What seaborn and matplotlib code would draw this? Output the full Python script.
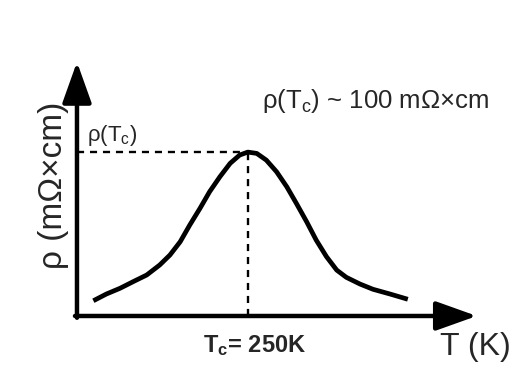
import seaborn as sns
import matplotlib.pyplot as plt
import pandas as pd

# schematic resistivity curve
T_vals = [24, 43, 63, 82, 102, 121, 136, 151, 165, 180, 194, 209, 224, 238, 250,
          263, 277, 292, 307, 321, 336, 350, 365, 380, 394, 414, 433, 458, 484]
rho_vals = [9.3, 13.4, 16.9, 20.9, 25, 31.1, 37.2, 45.3, 55.5, 65.7, 75.8, 84.9, 93.1, 98.2, 100,
            99.2, 95.1, 88, 78.8, 68.7, 57.5, 46.3, 36.2, 28, 23.6, 19.5, 16.3, 13.4, 10.2]
Tc = 250
rho_Tc = 100

sns.set_style('white')
plt.rcParams['font.family'] = ['Liberation Sans', 'DejaVu Sans']
plt.rcParams['mathtext.fontset'] = 'custom'
plt.rcParams['mathtext.rm'] = 'Liberation Sans'
plt.rcParams['mathtext.it'] = 'Liberation Sans:italic'
plt.rcParams['mathtext.bf'] = 'Liberation Sans:bold'

df = pd.DataFrame({'T': T_vals, 'rho': rho_vals})

fig = plt.figure(figsize=(5.18, 3.89), dpi=100)
ax = fig.add_axes([0.1486, 0.1877, 0.768, 0.653])
sns.lineplot(data=df, x='T', y='rho', color='black', linewidth=3.4, ax=ax, sort=False,
             solid_capstyle='butt', solid_joinstyle='round')

ax.set_xlim(0, 582)
ax.set_ylim(0, 155)
for s in ax.spines.values():
    s.set_visible(False)
ax.set_xticks([])
ax.set_yticks([])
ax.set_xlabel('')
ax.set_ylabel('')

# axes with arrow heads
arrow = dict(arrowstyle='-|>,head_length=1.4,head_width=0.5', lw=3.2,
             color='black', mutation_scale=18, shrinkA=0, shrinkB=0)
ax.annotate('', xy=(1.005, 0), xytext=(-0.005, 0), xycoords='axes fraction',
            arrowprops=arrow, annotation_clip=False)
ax.annotate('', xy=(0, 1), xytext=(0, -0.007), xycoords='axes fraction',
            arrowprops=arrow, annotation_clip=False)

# dashed guides to the peak
ax.plot([0, Tc], [rho_Tc, rho_Tc], color='black', lw=1.7, ls=(0, (3, 2.5)))
ax.plot([Tc, Tc], [0, rho_Tc], color='black', lw=1.7, ls=(0, (3, 2.5)))

ax.text(15, 110, r'ρ(T$_\mathrm{c}$)', fontsize=16, ha='left', va='center')
ax.text(270, 131, r'ρ(T$_\mathrm{c}$) ~ 100 mΩ×cm', fontsize=18.5, ha='left', va='center')
ax.text(260, -18, r'T$_\mathbf{c}$= 250K', fontsize=17, fontweight='bold',
        ha='center', va='center', clip_on=False)
ax.text(583, -19, 'T (K)', fontsize=23, ha='center', va='center', clip_on=False)
ax.text(-35, 80, 'ρ (mΩ×cm)', fontsize=24, rotation=90, ha='center', va='center',
        clip_on=False)

fig.savefig('out.png', dpi=100)
